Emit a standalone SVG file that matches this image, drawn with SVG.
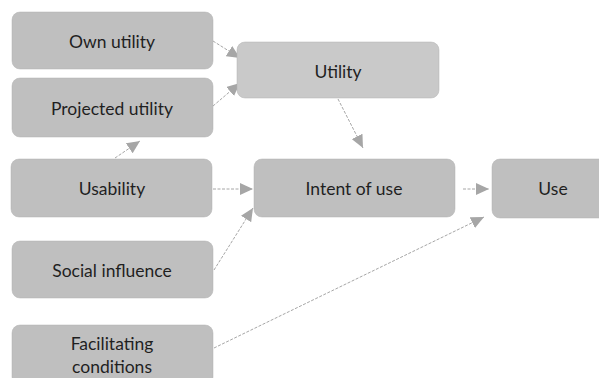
<svg xmlns="http://www.w3.org/2000/svg" width="599" height="378" viewBox="0 0 599 378">
<style>
.box{fill:#bfbfbf;stroke:#b3b3b3;stroke-width:0.5}
.lt{fill:#c9c9c9}
.t{font-family:Lato,"Open Sans","Liberation Sans",sans-serif;font-size:17.5px;fill:#1f1f1f;text-anchor:middle;dominant-baseline:central}
.c{fill:none;stroke:#a6a6a6;stroke-width:1;stroke-dasharray:3 1.5}
</style>
<defs>
<marker id="ah" markerUnits="userSpaceOnUse" markerWidth="14" markerHeight="12" refX="13" refY="6" orient="auto">
<path d="M0,0 L13,6 L0,12 Z" fill="#a6a6a6"/>
</marker>
</defs>
<rect width="599" height="378" fill="#ffffff"/>
<g id="connectors">
<line class="c" x1="213" y1="41" x2="240" y2="58" marker-end="url(#ah)"/>
<line class="c" x1="213" y1="106" x2="240" y2="83" marker-end="url(#ah)"/>
<line class="c" x1="115" y1="158" x2="140" y2="141" marker-end="url(#ah)"/>
<line class="c" x1="338" y1="99" x2="363" y2="148" marker-end="url(#ah)"/>
<line class="c" x1="213" y1="189" x2="253" y2="189" marker-end="url(#ah)"/>
<line class="c" x1="214" y1="270" x2="253" y2="208" marker-end="url(#ah)"/>
<line class="c" x1="463" y1="189" x2="489" y2="189" marker-end="url(#ah)"/>
<line class="c" x1="214" y1="348" x2="484" y2="217" marker-end="url(#ah)"/>
</g>
<g id="own-utility"><rect class="box" x="12" y="12" width="201" height="57" rx="8"/><text class="t" x="112" y="41">Own utility</text></g>
<g id="projected-utility"><rect class="box" x="12" y="78" width="201" height="59" rx="8"/><text class="t" x="112" y="108">Projected utility</text></g>
<g id="usability"><rect class="box" x="11" y="159" width="201" height="58" rx="8"/><text class="t" x="112" y="188">Usability</text></g>
<g id="social-influence"><rect class="box" x="12" y="241" width="201" height="57" rx="8"/><text class="t" x="112" y="270">Social influence</text></g>
<g id="facilitating-conditions"><rect class="box" x="12" y="325" width="201" height="60" rx="8"/><text class="t" x="112" y="343">Facilitating</text><text class="t" x="112" y="366">conditions</text></g>
<g id="utility"><rect class="box lt" x="237" y="42" width="202" height="56" rx="8"/><text class="t" x="338" y="71">Utility</text></g>
<g id="intent-of-use"><rect class="box" x="254" y="159" width="201" height="58" rx="8"/><text class="t" x="354" y="188">Intent of use</text></g>
<g id="use"><rect class="box" x="492" y="159" width="122" height="59" rx="8"/><text class="t" x="553" y="188">Use</text></g>
</svg>
